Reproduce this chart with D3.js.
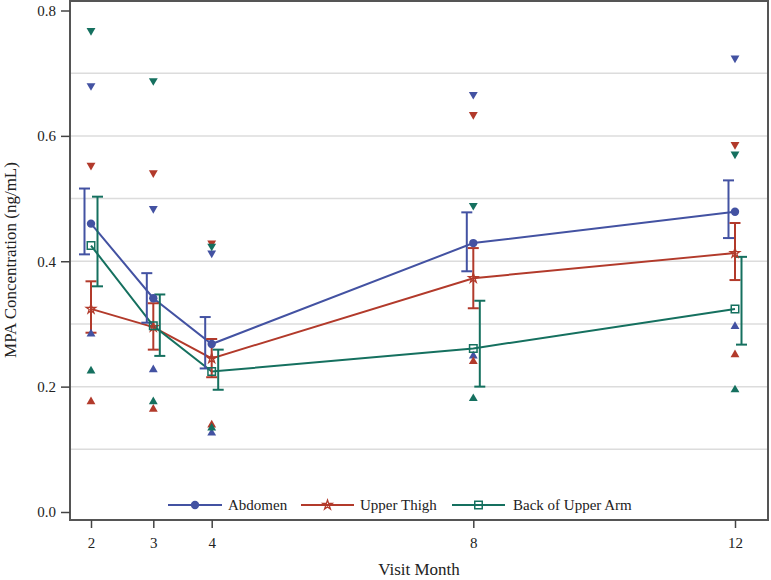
<!DOCTYPE html>
<html>
<head>
<meta charset="utf-8">
<script src="https://cdn.jsdelivr.net/npm/d3@7"></script>
<style>
  html, body { margin: 0; padding: 0; background: #fff; }
  svg { display: block; font-family: "Liberation Serif", "Times New Roman", serif; }
</style>
</head>
<body>
<svg id="chart" width="771" height="580"></svg>
<script>
// ---------- data ----------
const months = [2, 3, 4, 8, 12];
const seriesNames = ["Abdomen", "Upper Thigh", "Back of Upper Arm"];

const abdomenMean  = [0.460, 0.341, 0.268, 0.429, 0.479];
const abdomenLower = [0.411, 0.302, 0.229, 0.384, 0.437];
const abdomenUpper = [0.516, 0.381, 0.311, 0.478, 0.529];
const abdomenMax   = [0.680, 0.484, 0.413, 0.666, 0.724];
const abdomenMin   = [0.284, 0.227, 0.126, 0.249, 0.296];

const thighMean  = [0.324, 0.295, 0.245, 0.373, 0.413];
const thighLower = [0.286, 0.259, 0.215, 0.325, 0.370];
const thighUpper = [0.368, 0.333, 0.276, 0.421, 0.461];
const thighMax   = [0.553, 0.541, 0.429, 0.634, 0.586];
const thighMin   = [0.176, 0.164, 0.139, 0.240, 0.251];

const armMean  = [0.425, 0.297, 0.224, 0.261, 0.324];
const armLower = [0.360, 0.249, 0.195, 0.200, 0.267];
const armUpper = [0.503, 0.347, 0.259, 0.337, 0.407];
const armMax   = [0.768, 0.688, 0.424, 0.489, 0.571];
const armMin   = [0.225, 0.176, 0.134, 0.181, 0.195];

const yTicks = [0.0, 0.2, 0.4, 0.6, 0.8];
const yGrid  = [0.1, 0.2, 0.3, 0.4, 0.5, 0.6, 0.7];

// ---------- layout ----------
const svg = d3.select("#chart");
const frame = { left: 70, right: 768, top: 1, bottom: 520 };
const colors = ["#4352a2", "#b23a2b", "#15705f"];
const symbols = [d3.symbolCircle, d3.symbolStar, d3.symbolSquare];
const barOffset = [-6.5, 0, 6.5];

// x positions follow the reference (slightly uneven spacing at the start)
const x = d3.scaleLinear()
  .domain([2, 3, 4, 8, 12])
  .range([91, 153.3, 211.7, 473.3, 735]);
const y = d3.scaleLinear().domain([0, 0.8]).range([512, 10.5]);

const series = [
  { name: seriesNames[0], mean: abdomenMean, lo: abdomenLower, hi: abdomenUpper, mx: abdomenMax, mn: abdomenMin },
  { name: seriesNames[1], mean: thighMean, lo: thighLower, hi: thighUpper, mx: thighMax, mn: thighMin },
  { name: seriesNames[2], mean: armMean, lo: armLower, hi: armUpper, mx: armMax, mn: armMin }
];

// grid
svg.append("g").selectAll("line").data(yGrid).join("line")
  .attr("x1", frame.left).attr("x2", frame.right)
  .attr("y1", d => y(d)).attr("y2", d => y(d))
  .attr("stroke", "#dcdcdc").attr("stroke-width", 1.5);

// frame
svg.append("rect")
  .attr("x", frame.left).attr("y", frame.top)
  .attr("width", frame.right - frame.left).attr("height", frame.bottom - frame.top)
  .attr("fill", "none").attr("stroke", "#555").attr("stroke-width", 2);

// y axis
const yAxis = svg.append("g").attr("transform", `translate(${frame.left},0)`)
  .call(d3.axisLeft(y).tickValues(yTicks).tickFormat(d3.format(".1f")).tickSize(9).tickPadding(5));
yAxis.select(".domain").remove();
yAxis.selectAll(".tick line").attr("stroke", "#444").attr("stroke-width", 1.5);
yAxis.selectAll(".tick text").attr("font-size", 15).attr("fill", "#222")
  .attr("font-family", "Liberation Serif, serif");

// x axis
const xAxis = svg.append("g").attr("transform", `translate(0,${frame.bottom})`)
  .call(d3.axisBottom(x).tickValues(months).tickFormat(d3.format("d")).tickSize(8).tickPadding(9));
xAxis.select(".domain").remove();
xAxis.selectAll(".tick line").attr("stroke", "#444").attr("stroke-width", 1.5);
xAxis.selectAll(".tick text").attr("font-size", 15).attr("fill", "#222")
  .attr("font-family", "Liberation Serif, serif");

// axis titles
svg.append("text").attr("x", 419).attr("y", 575).attr("text-anchor", "middle")
  .attr("font-size", 17).attr("fill", "#222").text("Visit Month");
svg.append("text").attr("transform", "translate(16,260) rotate(-90)")
  .attr("text-anchor", "middle").attr("font-size", 17).attr("fill", "#222")
  .text("MPA Concentration (ng/mL)");

const plot = svg.append("g");

// lines
const line = d3.line().x((d, i) => x(months[i])).y(d => y(d));
series.forEach((s, k) => {
  plot.append("path").datum(s.mean).attr("d", line)
    .attr("fill", "none").attr("stroke", colors[k]).attr("stroke-width", 2);
});

// error bars
series.forEach((s, k) => {
  const g = plot.append("g").attr("stroke", colors[k]).attr("stroke-width", 2).attr("fill", "none");
  months.forEach((m, i) => {
    const cx = x(m) + barOffset[k];
    g.append("line").attr("x1", cx).attr("x2", cx).attr("y1", y(s.lo[i])).attr("y2", y(s.hi[i]));
    g.append("line").attr("x1", cx - 5.5).attr("x2", cx + 5.5).attr("y1", y(s.lo[i])).attr("y2", y(s.lo[i]));
    g.append("line").attr("x1", cx - 5.5).attr("x2", cx + 5.5).attr("y1", y(s.hi[i])).attr("y2", y(s.hi[i]));
  });
});

// min / max triangles
const tri = d3.symbol().type(d3.symbolTriangle).size(34);
series.forEach((s, k) => {
  months.forEach((m, i) => {
    plot.append("path").attr("d", tri())
      .attr("transform", `translate(${x(m)},${y(s.mx[i])}) rotate(180)`)
      .attr("fill", colors[k]);
    plot.append("path").attr("d", tri())
      .attr("transform", `translate(${x(m)},${y(s.mn[i])})`)
      .attr("fill", colors[k]);
  });
});

// mean markers
function drawMarker(g, k, cx, cy) {
  if (k === 0) {
    g.append("path").attr("d", d3.symbol().type(symbols[0]).size(55)())
      .attr("transform", `translate(${cx},${cy})`).attr("fill", colors[0]);
  } else if (k === 1) {
    g.append("path").attr("d", d3.symbol().type(symbols[1]).size(28)())
      .attr("transform", `translate(${cx},${cy})`).attr("fill", "none")
      .attr("stroke", colors[1]).attr("stroke-width", 1.3);
  } else {
    g.append("path").attr("d", d3.symbol().type(symbols[2]).size(56)())
      .attr("transform", `translate(${cx},${cy})`).attr("fill", "none")
      .attr("stroke", colors[2]).attr("stroke-width", 1.5);
  }
}
series.forEach((s, k) => {
  months.forEach((m, i) => drawMarker(plot, k, x(m), y(s.mean[i])));
});

// legend
const legendItems = [
  { x0: 168, x1: 222, tx: 228 },
  { x0: 301, x1: 354, tx: 360 },
  { x0: 452, x1: 505, tx: 513 }
];
const legend = svg.append("g");
const ly = 505;
series.forEach((s, k) => {
  const it = legendItems[k];
  legend.append("line").attr("x1", it.x0).attr("x2", it.x1).attr("y1", ly).attr("y2", ly)
    .attr("stroke", colors[k]).attr("stroke-width", 2);
  drawMarker(legend, k, (it.x0 + it.x1) / 2, ly);
  legend.append("text").attr("x", it.tx).attr("y", ly + 5).attr("font-size", 15)
    .attr("fill", "#222").text(s.name);
});
</script>
</body>
</html>
